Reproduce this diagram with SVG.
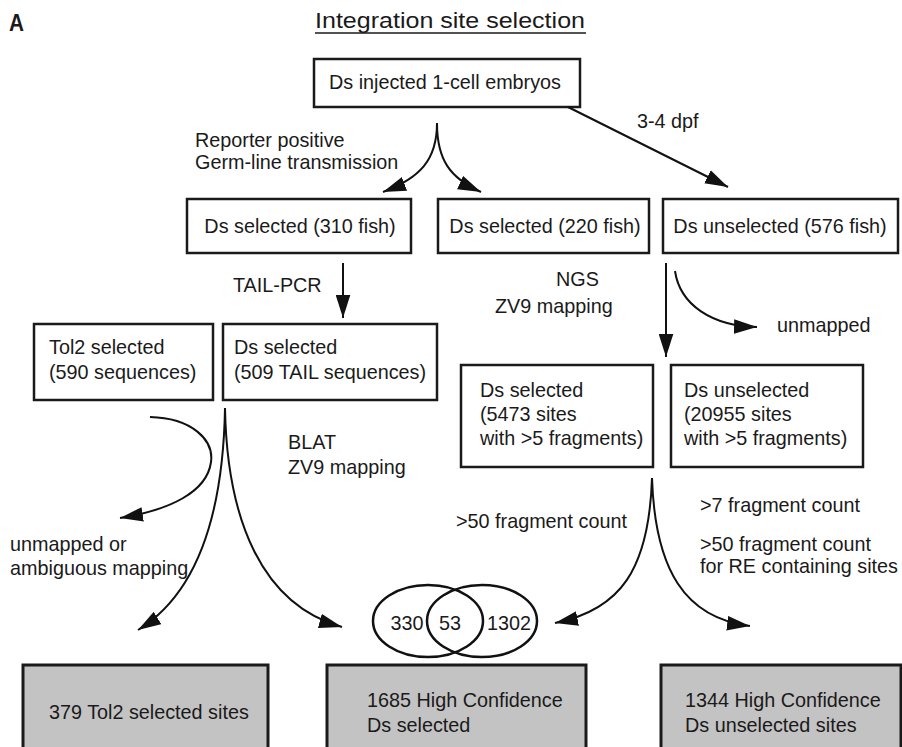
<svg xmlns="http://www.w3.org/2000/svg" width="902" height="747" viewBox="0 0 902 747">
<defs>
<style>
text{font-family:"Liberation Sans",Arial,sans-serif;font-size:19.8px;fill:#1a1a1a}
.box{fill:#fff;stroke:#1a1a1a;stroke-width:2.5}
.gbox{fill:#c3c3c3;stroke:#1a1a1a;stroke-width:3}
.ln{fill:none;stroke:#111;stroke-width:2}
.ven{fill:none;stroke:#111;stroke-width:2.5}
.mid{text-anchor:middle}
</style>
<marker id="ah" markerUnits="userSpaceOnUse" markerWidth="24" markerHeight="15" refX="22" refY="7" orient="auto" viewBox="0 0 23 14">
<path d="M0,0 L22,7 L0,14 z" fill="#111"/>
</marker>
</defs>
<rect width="902" height="747" fill="#fff"/>
<text x="9" y="31" style="font-weight:bold;font-size:23px" textLength="15" lengthAdjust="spacingAndGlyphs">A</text>
<text x="450" y="28" class="mid" style="font-size:22px" textLength="270" lengthAdjust="spacingAndGlyphs">Integration site selection</text>
<line x1="315" y1="33" x2="586" y2="33" stroke="#1a1a1a" stroke-width="1.5"/>

<g id="n-injected"><rect class="box" x="314" y="59" width="266" height="48"/><text x="445" y="89" class="mid">Ds injected 1-cell embryos</text></g>
<g id="n-sel310"><rect class="box" x="187" y="199" width="224" height="54"/><text x="300" y="233" class="mid">Ds selected (310 fish)</text></g>
<g id="n-sel220"><rect class="box" x="438" y="199" width="211" height="54"/><text x="545" y="233" class="mid">Ds selected (220 fish)</text></g>
<g id="n-unsel576"><rect class="box" x="663" y="199" width="235" height="54"/><text x="780" y="233" class="mid">Ds unselected (576 fish)</text></g>
<g id="n-tol2"><rect class="box" x="34" y="324" width="179" height="76"/><text x="49" y="354">Tol2 selected</text><text x="49" y="379">(590 sequences)</text></g>
<g id="n-tail"><rect class="box" x="223" y="324" width="214" height="76"/><text x="234" y="354">Ds selected</text><text x="234" y="379">(509 TAIL sequences)</text></g>
<g id="n-sel5473"><rect class="box" x="461" y="365" width="192" height="102"/><text x="480" y="397">Ds selected</text><text x="480" y="421">(5473 sites</text><text x="480" y="445">with &gt;5 fragments)</text></g>
<g id="n-unsel20955"><rect class="box" x="671" y="365" width="192" height="102"/><text x="684" y="397">Ds unselected</text><text x="684" y="421">(20955 sites</text><text x="684" y="445">with &gt;5 fragments)</text></g>
<g id="n-venn"><ellipse class="ven" cx="428" cy="621" rx="55" ry="36"/><ellipse class="ven" cx="482" cy="621" rx="55" ry="36"/><text x="407" y="630" class="mid">330</text><text x="450" y="630" class="mid">53</text><text x="509" y="630" class="mid">1302</text></g>
<g id="n-tol2sites"><rect class="gbox" x="23" y="665" width="245" height="100"/><text x="49" y="719">379 Tol2 selected sites</text></g>
<g id="n-hc-sel"><rect class="gbox" x="327" y="665" width="259" height="100"/><text x="367" y="707">1685 High Confidence</text><text x="367" y="732">Ds selected</text></g>
<g id="n-hc-unsel"><rect class="gbox" x="661" y="665" width="240" height="100"/><text x="685" y="707">1344 High Confidence</text><text x="685" y="732">Ds unselected sites</text></g>

<g id="connectors">
<path class="ln" marker-end="url(#ah)" d="M437,123 C437,160 420,178 383,192"/>
<path class="ln" marker-end="url(#ah)" d="M437,123 C437,160 450,178 481,192"/>
<path class="ln" marker-end="url(#ah)" d="M568,107 L728,187"/>
<path class="ln" marker-end="url(#ah)" d="M343,263 L343,318"/>
<path class="ln" marker-end="url(#ah)" d="M666,263 L666,357"/>
<path class="ln" marker-end="url(#ah)" d="M675,271 C680,305 712,326 757,327"/>
<path class="ln" marker-end="url(#ah)" d="M150,417 C192,418 214,440 211,462 C207,492 170,510 120,518"/>
<path class="ln" marker-end="url(#ah)" d="M225,408 C223,520 195,595 138,630"/>
<path class="ln" marker-end="url(#ah)" d="M225,408 C227,520 262,605 342,627"/>
<path class="ln" marker-end="url(#ah)" d="M652,478 C649,570 620,610 555,623"/>
<path class="ln" marker-end="url(#ah)" d="M652,478 C655,570 685,618 750,626"/>
</g>

<text x="195" y="147">Reporter positive</text>
<text x="195" y="169">Germ-line transmission</text>
<text x="637" y="128">3-4 dpf</text>
<text x="233" y="292">TAIL-PCR</text>
<text x="556" y="286">NGS</text>
<text x="495" y="313">ZV9 mapping</text>
<text x="777" y="332">unmapped</text>
<text x="288" y="449">BLAT</text>
<text x="288" y="474">ZV9 mapping</text>
<text x="10" y="551">unmapped or</text>
<text x="10" y="575">ambiguous mapping</text>
<text x="456" y="528">&gt;50 fragment count</text>
<text x="700" y="512">&gt;7 fragment count</text>
<text x="700" y="551">&gt;50 fragment count</text>
<text x="700" y="573">for RE containing sites</text>
</svg>
